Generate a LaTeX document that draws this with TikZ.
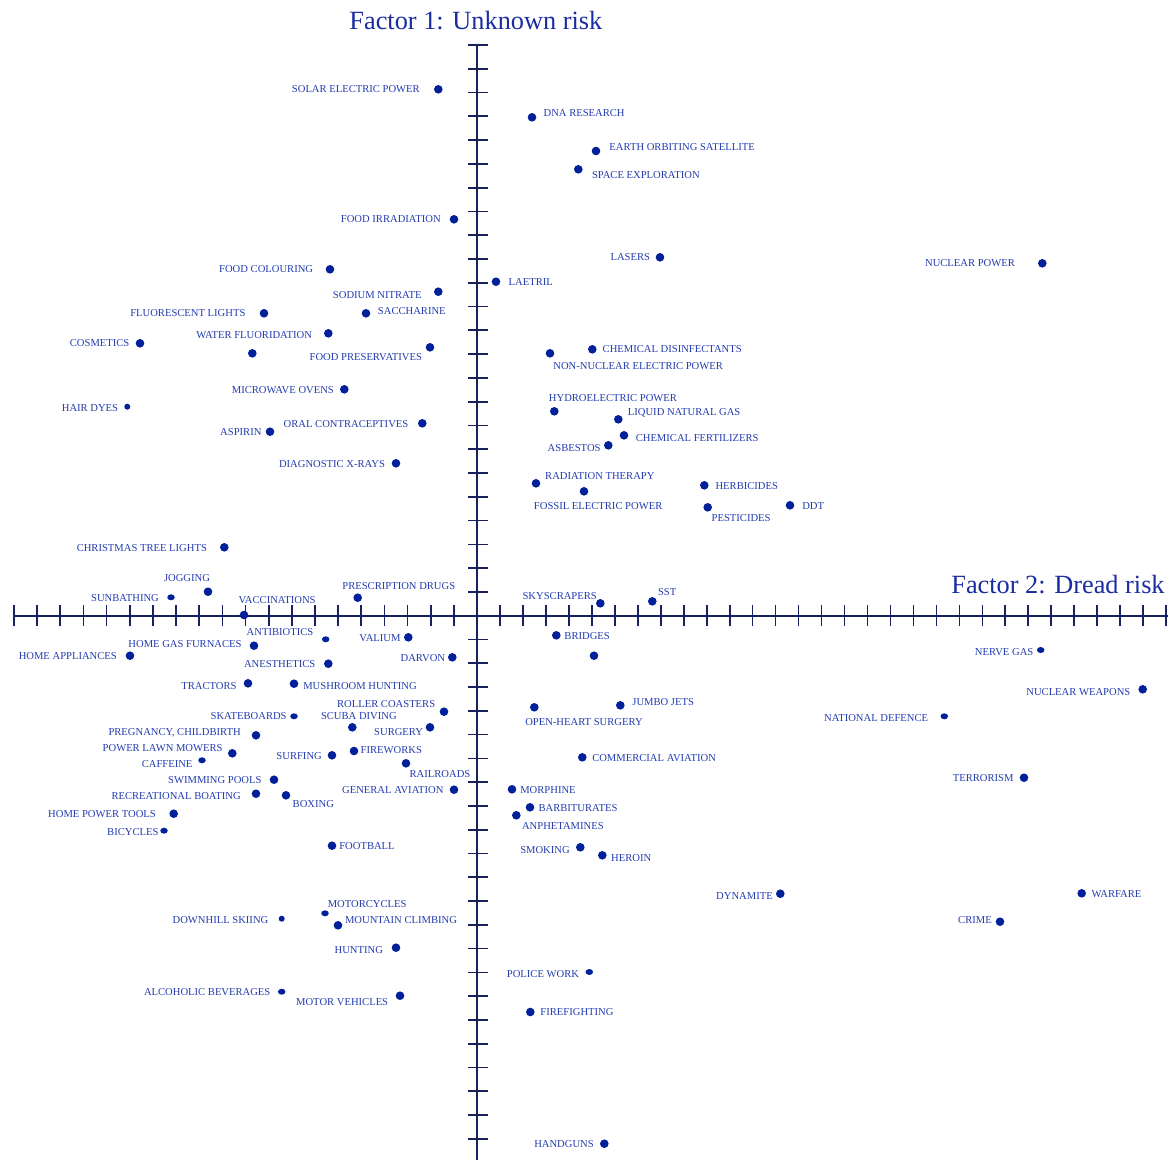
\documentclass[tikz,border=0pt]{standalone}
\usepackage{fontspec}
\setmainfont{Liberation Serif}
\usetikzlibrary{shapes.geometric}

\definecolor{axisnavy}{RGB}{25,32,95}
\definecolor{dotblue}{RGB}{3,32,155}
\definecolor{labelblue}{RGB}{35,60,175}
\definecolor{titleblue}{RGB}{25,45,160}

\tikzset{
  axisline/.style={axisnavy, line width=1.9pt},
  tickline/.style={axisnavy, line width=1.7pt},
  dot/.style={circle, fill=dotblue, inner sep=0pt, minimum size=8.6pt},
  smalldot/.style={ellipse, fill=dotblue, inner sep=0pt, minimum width=7.5pt, minimum height=6pt},
  tinydot/.style={circle, fill=dotblue, inner sep=0pt, minimum size=6pt},
  lbl/.style={anchor=base, inner sep=0pt, text=labelblue, font=\fontsize{10.6}{12}\selectfont},
  axtitle/.style={anchor=base, inner sep=0pt, text=titleblue, font=\fontsize{26.3}{30}\selectfont},
}

% one hazard: [dot style]{name}{dot x}{dot y}{label centre x}{label centre y}{text}
\newcommand\hazard[7][dot]{%
  \node[#1] (d-#2) at (#3,#4) {};
  \node[lbl] (l-#2) at (#5,#6+3.5) {#7};
}

\begin{document}
\begin{tikzpicture}[x=1pt, y=-1pt]
\useasboundingbox (0,0) rectangle (1173,1160);

% axes
\coordinate (xl) at (14,615.7);
\coordinate (xr) at (1168,615.7);
\coordinate (yt) at (477,45);
\coordinate (yb) at (477,1160);
\draw[axisline] (xl) -- (xr);
\draw[axisline] (yt) -- (yb);
\foreach \k in {1,...,20} \draw[tickline] (477-\k*23.15,605) -- ++(0,21);
\foreach \k in {1,...,30} \draw[tickline] (477+\k*22.97,605) -- ++(0,21);
\foreach \k in {-24,...,22} \draw[tickline] (468,615.7+\k*23.78) -- ++(20,0);

% axis titles
\node[axtitle] (t-unknown) at (475.85,29.2) {Factor 1: Unknown risk};
\node[axtitle] (t-dread) at (1058,593.4) {Factor 2: Dread risk};

% hazards
\hazard{solar}{438.3}{89.3}{355.85}{89.3}{SOLAR ELECTRIC POWER}
\hazard{dna}{532}{117.3}{584.15}{113.3}{DNA RESEARCH}
\hazard{earth}{596}{151}{682.15}{147}{EARTH ORBITING SATELLITE}
\hazard{space}{578.3}{169.3}{645.85}{175}{SPACE EXPLORATION}
\hazard{foodirr}{454}{219.3}{390.85}{219.3}{FOOD IRRADIATION}
\hazard{lasers}{660}{257.3}{630.3}{257.3}{LASERS}
\hazard{nuclear}{1042.3}{263.3}{970}{263.3}{NUCLEAR POWER}
\hazard{foodcol}{330}{269.3}{266.15}{269.3}{FOOD COLOURING}
\hazard{laetril}{496}{281.7}{530.8}{281.7}{LAETRIL}
\hazard{sodium}{438.3}{291.7}{377.3}{295}{SODIUM NITRATE}
\hazard{saccharine}{366}{313.3}{411.85}{311}{SACCHARINE}
\hazard{fluor}{264}{313.3}{187.85}{313.3}{FLUORESCENT LIGHTS}
\hazard{waterfl}{328.3}{333.3}{254.15}{335}{WATER FLUORIDATION}
\hazard{cosmetics}{140}{343.3}{99.65}{343.3}{COSMETICS}
\hazard{foodpres}{430}{347.3}{365.85}{357.3}{FOOD PRESERVATIVES}
\node[dot] (d-extra-a) at (252.3,353.3) {};
\hazard{chemdis}{592.3}{349.3}{672.2}{349.3}{CHEMICAL DISINFECTANTS}
\hazard{nonnuc}{550}{353.3}{638.15}{366.3}{NON-NUCLEAR ELECTRIC POWER}
\hazard{microwave}{344.3}{389.3}{282.85}{390}{MICROWAVE OVENS}
\hazard{hydro}{554.3}{411.3}{613}{398.3}{HYDROELECTRIC POWER}
\hazard[tinydot]{hairdyes}{127.3}{406.7}{90}{408.3}{HAIR DYES}
\hazard{lng}{618.3}{419.3}{684.15}{412.3}{LIQUID NATURAL GAS}
\hazard{oral}{422.3}{423.3}{346}{424.3}{ORAL CONTRACEPTIVES}
\hazard{aspirin}{270}{431.7}{240.85}{432.3}{ASPIRIN}
\hazard{chemfert}{624}{435.3}{697.15}{438.3}{CHEMICAL FERTILIZERS}
\hazard{asbestos}{608.3}{445.3}{574.15}{448.3}{ASBESTOS}
\hazard{diag}{396}{463.3}{332}{464.3}{DIAGNOSTIC X-RAYS}
\hazard{radiation}{536}{483.3}{599.85}{476}{RADIATION THERAPY}
\hazard{herbicides}{704.3}{485.3}{746.8}{486}{HERBICIDES}
\hazard{fossil}{584}{491.3}{598.15}{506}{FOSSIL ELECTRIC POWER}
\hazard{ddt}{790}{505.3}{813.15}{506}{DDT}
\hazard{pesticides}{707.7}{507.3}{741.15}{518.3}{PESTICIDES}
\hazard{xmas}{224.3}{547.3}{141.85}{548.3}{CHRISTMAS TREE LIGHTS}
\hazard{jogging}{208}{591.7}{187}{578.3}{JOGGING}
\hazard{prescr}{357.7}{597.7}{398.8}{586}{PRESCRIPTION DRUGS}
\hazard{sst}{652.3}{601.3}{667.15}{592.3}{SST}
\hazard[smalldot]{sunbathing}{171}{597.3}{125}{598.3}{SUNBATHING}
\hazard{skyscrapers}{600.3}{603.3}{559.7}{596}{SKYSCRAPERS}
\hazard{vaccinations}{244}{615}{277.15}{600.3}{VACCINATIONS}
\hazard[smalldot]{antibiotics}{325.7}{639.3}{280}{632.3}{ANTIBIOTICS}
\hazard{bridges}{556.3}{635.3}{587.15}{636.3}{BRIDGES}
\hazard{valium}{408.3}{637.3}{380}{638.3}{VALIUM}
\hazard{homegas}{254}{645.7}{185}{644.3}{HOME GAS FURNACES}
\hazard[smalldot]{nervegas}{1040.7}{650}{1004.15}{652}{NERVE GAS}
\hazard{homeapp}{130}{655.7}{67.8}{656.3}{HOME APPLIANCES}
\node[dot] (d-extra-b) at (594,655.7) {};
\hazard{darvon}{452.3}{657.3}{422.85}{658.3}{DARVON}
\hazard{anesthetics}{328.3}{663.7}{279.65}{664.3}{ANESTHETICS}
\hazard{tractors}{248}{683.3}{209}{686}{TRACTORS}
\hazard{mushroom}{294}{683.7}{360}{686.3}{MUSHROOM HUNTING}
\hazard{nucweap}{1142.7}{689.3}{1078.35}{692.3}{NUCLEAR WEAPONS}
\hazard{jumbo}{620.3}{705.3}{663.15}{702.3}{JUMBO JETS}
\hazard{roller}{444}{711.7}{386.15}{704.3}{ROLLER COASTERS}
\hazard[smalldot]{skate}{294}{716.3}{248.65}{716.3}{SKATEBOARDS}
\hazard{scuba}{352.3}{727.3}{358.85}{716.3}{SCUBA DIVING}
\hazard[smalldot]{natdef}{944.3}{716.3}{876.15}{718.3}{NATIONAL DEFENCE}
\hazard{openheart}{534.3}{707.3}{584}{722.3}{OPEN-HEART SURGERY}
\hazard{surgery}{430}{727.3}{398.65}{732.3}{SURGERY}
\hazard{pregnancy}{256}{735.3}{174.65}{732.3}{PREGNANCY, CHILDBIRTH}
\hazard{lawnmowers}{232.3}{753.3}{162.65}{748.3}{POWER LAWN MOWERS}
\hazard{surfing}{332}{755.3}{299.15}{756.3}{SURFING}
\hazard{fireworks}{354}{751}{391.3}{750.3}{FIREWORKS}
\hazard{commav}{582.3}{757.3}{654.15}{758.3}{COMMERCIAL AVIATION}
\hazard[smalldot]{caffeine}{202}{760.3}{167.15}{764}{CAFFEINE}
\hazard{railroads}{406}{763.3}{440}{774.3}{RAILROADS}
\hazard{terrorism}{1024}{777.7}{983.15}{778.3}{TERRORISM}
\hazard{swimming}{274}{779.7}{214.85}{780.3}{SWIMMING POOLS}
\hazard{genav}{454}{789.7}{392.85}{790.3}{GENERAL AVIATION}
\hazard{morphine}{512}{789.3}{548}{790}{MORPHINE}
\hazard{recboat}{256}{793.7}{176.15}{796.3}{RECREATIONAL BOATING}
\hazard{boxing}{286}{795.3}{313.35}{804.3}{BOXING}
\hazard{barbit}{530}{807.3}{578}{808}{BARBITURATES}
\hazard{hpt}{173.7}{813.7}{102}{814.3}{HOME POWER TOOLS}
\hazard{anphet}{516.3}{815.3}{562.85}{826.3}{ANPHETAMINES}
\hazard[smalldot]{bicycles}{164}{830.7}{132.8}{832.3}{BICYCLES}
\hazard{football}{332}{845.7}{367}{846.3}{FOOTBALL}
\hazard{smoking}{580.3}{847.3}{545}{850}{SMOKING}
\hazard{heroin}{602.3}{855.3}{631.2}{858}{HEROIN}
\hazard{dynamite}{780.3}{893.7}{744.5}{896}{DYNAMITE}
\hazard{warfare}{1081.7}{893.3}{1116.5}{894}{WARFARE}
\hazard[smalldot]{motorcycles}{325}{913.3}{367.15}{904.3}{MOTORCYCLES}
\hazard[tinydot]{downhill}{281.7}{918.7}{220.5}{920.3}{DOWNHILL SKIING}
\hazard{mountain}{338}{925.3}{401}{920.3}{MOUNTAIN CLIMBING}
\hazard{crime}{1000}{921.7}{975}{920.3}{CRIME}
\hazard{hunting}{396}{947.7}{358.8}{950}{HUNTING}
\hazard[smalldot]{police}{589.3}{972}{543}{974}{POLICE WORK}
\hazard[smalldot]{alcohol}{281.7}{991.7}{207.2}{992.3}{ALCOHOLIC BEVERAGES}
\hazard{motorveh}{400}{995.7}{342.15}{1002.3}{MOTOR VEHICLES}
\hazard{firefighting}{530.3}{1012}{577}{1012.3}{FIREFIGHTING}
\hazard{handguns}{604.3}{1143.7}{564}{1144}{HANDGUNS}

\end{tikzpicture}
\end{document}
